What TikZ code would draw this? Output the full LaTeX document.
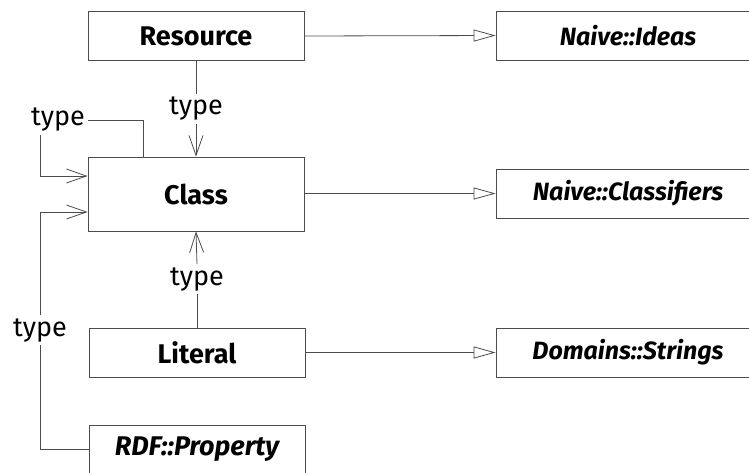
\documentclass[tikz,border=0pt]{standalone}
\usepackage{fontspec}
\setmainfont{Fira Sans}
\usetikzlibrary{arrows.meta}
\begin{document}
\begin{tikzpicture}[x=1pt,y=-1pt,
  every node/.style={font=\fontsize{27}{32}\selectfont},
  box/.style={draw=black!70, line width=0.8pt, rectangle, inner sep=0pt, minimum height=49pt},
  lbox/.style={box, minimum width=216pt, font=\fontsize{27}{32}\selectfont\bfseries},
  rbox/.style={box, minimum width=264pt, font=\fontsize{25}{30}\selectfont\bfseries\itshape},
  lab/.style={inner sep=3pt, font=\fontsize{27}{32}\selectfont},
  conn/.style={draw=black!70, line width=0.8pt},
  gen/.style={conn, -{Triangle[open, length=22pt, width=12pt]}},
  typ/.style={conn, -{Straight Barb[length=20pt, width=14pt, line width=0.8pt]}}
]
\useasboundingbox (0,0) rectangle (749,472);

\node[lbox] (res) at (196,36) {Resource};
\node[lbox, minimum height=74pt] (cls) at (196,194) {Class};
\node[lbox] (lit) at (197,352.5) {Literal};
\node[lbox] (rdf) at (197,449.5) {\itshape RDF::Property};

\node[rbox] (ideas) at (628,35.5) {Naive::Ideas};
\node[rbox] (clsf) at (628,193.5) {Naive::Classifiers};
\node[rbox] (str) at (628,352.5) {Domains::Strings};

\node[lab] (t1) at (196,109) {type};
\node[lab] (t2) at (58,120) {type};
\node[lab] (t3) at (40,330) {type};
\node[lab] (t4) at (197,279) {type};

\coordinate (cx1) at (143,0);
\coordinate (lx) at (40,0);
\coordinate (ya) at (0,176);
\coordinate (yb) at (0,212);

\draw[gen] (res.east) -- (ideas.west);
\draw[gen] (cls.east |- clsf.west) -- (clsf.west);
\draw[gen] (lit.east) -- (str.west);

\draw[conn] (res.south) -- (t1.north);
\draw[typ] (t1.south) -- (cls.north);

\draw[conn] (cls.north -| cx1) |- (t2.east);
\draw[typ] (t2.south -| lx) |- (cls.west |- ya);

\draw[conn] (rdf.west) -| (t3.south);
\draw[typ] (t3.north) |- (cls.west |- yb);

\draw[conn] (lit.north) -- (t4.south);
\draw[typ] (t4.north) -- (cls.south);
\end{tikzpicture}
\end{document}
